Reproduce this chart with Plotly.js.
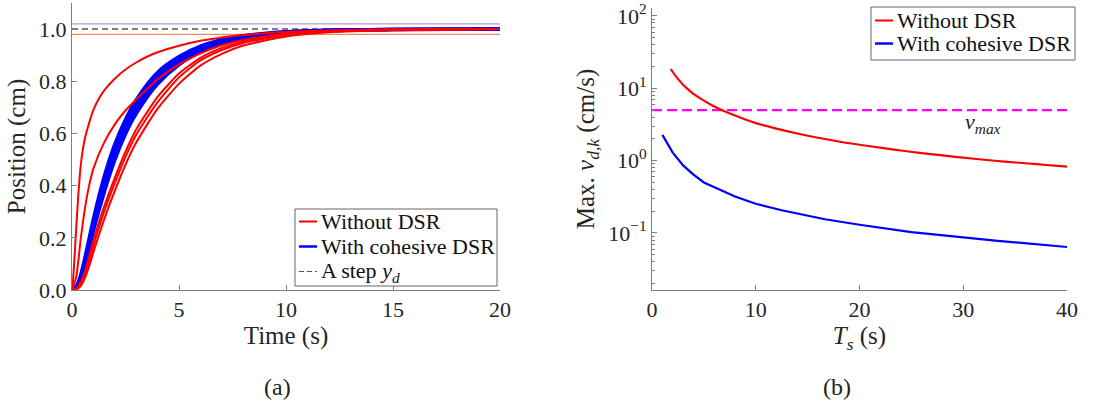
<!DOCTYPE html>
<html>
<head>
<meta charset="utf-8">
<script src="https://cdn.plot.ly/plotly-3.0.1.min.js"></script>
<style>html,body{margin:0;padding:0;background:#fff;}#chart{width:1099px;height:415px;}</style>
</head>
<body>
<div id="chart"></div>
<script>
// ---------- Panel (a): step responses ----------
const tR1 = [0, 0.05, 0.1, 0.15, 0.2, 0.3, 0.4, 0.5, 0.6, 0.8, 1.0, 1.3, 1.6, 2.0, 2.5, 3.0, 3.5, 4.0, 5.0, 6.0, 7.0, 8.0, 9.0, 10, 12, 14, 17, 20];
const yR1 = [0, 0.04, 0.10, 0.17, 0.24, 0.37, 0.47, 0.535, 0.58, 0.64, 0.69, 0.74, 0.775, 0.81, 0.845, 0.872, 0.894, 0.911, 0.936, 0.955, 0.968, 0.977, 0.984, 0.989, 0.995, 0.998, 0.999, 1.0];

const tC = [0, 0.2, 0.4, 0.6, 0.8, 1, 1.5, 2, 2.5, 3, 4, 5, 6, 7, 8, 10, 12, 15, 20];
const yR2 = [0, 0.05, 0.19, 0.31, 0.40, 0.465, 0.565, 0.635, 0.688, 0.73, 0.808, 0.865, 0.907, 0.938, 0.958, 0.982, 0.993, 0.998, 1.0];
const yR3 = [0, 0.005, 0.03, 0.07, 0.13, 0.19, 0.32, 0.43, 0.53, 0.615, 0.74, 0.83, 0.89, 0.928, 0.952, 0.98, 0.992, 0.998, 1.0];
const yR4 = [0, 0.003, 0.02, 0.055, 0.11, 0.17, 0.30, 0.41, 0.51, 0.595, 0.72, 0.815, 0.88, 0.92, 0.947, 0.977, 0.99, 0.997, 1.0];
const yR5 = [0, 0.002, 0.015, 0.045, 0.09, 0.145, 0.27, 0.38, 0.48, 0.565, 0.695, 0.79, 0.86, 0.905, 0.937, 0.972, 0.988, 0.996, 1.0];

const yB1 = [0, 0.014, 0.058, 0.125, 0.20, 0.275, 0.435, 0.56, 0.655, 0.73, 0.835, 0.895, 0.935, 0.96, 0.975, 0.99, 0.996, 0.999, 1.0];
const yB2 = [0, 0.012, 0.052, 0.115, 0.188, 0.262, 0.418, 0.544, 0.641, 0.716, 0.824, 0.887, 0.929, 0.956, 0.972, 0.989, 0.996, 0.999, 1.0];
const yB3 = [0, 0.011, 0.047, 0.106, 0.176, 0.249, 0.402, 0.528, 0.626, 0.702, 0.812, 0.879, 0.923, 0.951, 0.969, 0.987, 0.995, 0.999, 1.0];
const yB4 = [0, 0.010, 0.042, 0.098, 0.165, 0.236, 0.386, 0.512, 0.611, 0.688, 0.80, 0.871, 0.917, 0.947, 0.966, 0.986, 0.994, 0.998, 1.0];
const yB5 = [0, 0.009, 0.038, 0.090, 0.155, 0.224, 0.371, 0.497, 0.597, 0.675, 0.789, 0.863, 0.911, 0.943, 0.963, 0.984, 0.993, 0.998, 1.0];

const tSpan = [0, 20];
const stepY = [1.0, 1.0];
const upperBand = [1.02, 1.02];
const lowerBand = [0.98, 0.98];

// ---------- Panel (b): max velocity vs sampling period ----------
const TsRed = [1.82, 2, 2.5, 3, 3.5, 4, 5, 6, 7, 8, 9, 10, 12, 14, 16, 18, 20, 22, 24, 26, 28, 30, 32, 34, 36, 38, 40];
const vRed = [18.5, 16.8, 13.5, 11.2, 9.6, 8.4, 6.75, 5.6, 4.8, 4.2, 3.7, 3.3, 2.77, 2.37, 2.07, 1.84, 1.66, 1.51, 1.38, 1.27, 1.18, 1.10, 1.03, 0.97, 0.92, 0.87, 0.826];
const TsBlue = [1, 2, 3, 4, 5, 6.67, 8, 10, 12.5, 16.67, 20, 25, 33.33, 40];
const vBlue = [2.27, 1.29, 0.86, 0.64, 0.50, 0.39, 0.32, 0.254, 0.206, 0.155, 0.130, 0.103, 0.078, 0.064];
const TsSpan = [0, 40];
const vMax = [5.0, 5.0];

const yTickVals = [0.1, 1, 10, 100];
const yTickText = ['10<sup>\u22121</sup>', '10<sup>0</sup>', '10<sup>1</sup>', '10<sup>2</sup>'];
const yMinorVals = [0.02, 0.03, 0.04, 0.05, 0.06, 0.07, 0.08, 0.09, 0.2, 0.3, 0.4, 0.5, 0.6, 0.7, 0.8, 0.9,
  2, 3, 4, 5, 6, 7, 8, 9, 20, 30, 40, 50, 60, 70, 80, 90];

// legend labels
const legendA = ['Without DSR', 'With cohesive DSR', 'A step <i>y</i><sub><i>d</i></sub>'];
const legendB = ['Without DSR', 'With cohesive DSR'];

const RED = '#ff0000', BLUE = '#0000ff';
const FONT = '"Liberation Serif", "Times New Roman", serif';
const W = 1099, H = 415;
const px = v => v / W, py = v => 1 - v / H;

const traces = [];
traces.push({x: tSpan, y: upperBand, mode: 'lines', line: {color: '#b99ad6', width: 1.2}, hoverinfo: 'skip'});
traces.push({x: tSpan, y: lowerBand, mode: 'lines', line: {color: '#f4875a', width: 1.2}, hoverinfo: 'skip'});
traces.push({x: tSpan, y: stepY, mode: 'lines', name: legendA[2], line: {color: '#555555', width: 1.5, dash: '6px,4px'}});

[yB1, yB2, yB3, yB4, yB5].forEach(yy => traces.push({x: tC, y: yy, mode: 'lines', name: legendA[1],
  line: {color: BLUE, width: 3.2, shape: 'spline', smoothing: 0.8}}));
[[tR1, yR1], [tC, yR2], [tC, yR3], [tC, yR4], [tC, yR5]].forEach(s => traces.push({x: s[0], y: s[1], mode: 'lines', name: legendA[0],
  line: {color: RED, width: 2, shape: 'spline', smoothing: 0.6}}));

traces.push({x: TsSpan, y: vMax, xaxis: 'x2', yaxis: 'y2', mode: 'lines', line: {color: '#ff00ff', width: 2.2, dash: '10px,5px'}});
traces.push({x: TsRed, y: vRed, xaxis: 'x2', yaxis: 'y2', mode: 'lines', line: {color: RED, width: 2.2, shape: 'spline'}, name: legendB[0]});
traces.push({x: TsBlue, y: vBlue, xaxis: 'x2', yaxis: 'y2', mode: 'lines', line: {color: BLUE, width: 2.2}, name: legendB[1]});

const axCommon = {showline: true, linecolor: '#808080', linewidth: 1, ticks: 'inside', ticklen: 5, tickcolor: '#808080',
  showgrid: false, zeroline: false, tickfont: {family: FONT, size: 22, color: '#262626'}};

// Legend boxes (drawn as shapes + text so the compact MATLAB-style layout can be matched)
const shapes = [], annotations = [];
function addLegend(box, rows, items) {
  shapes.push({type: 'rect', xref: 'paper', yref: 'paper', x0: px(box[0]), x1: px(box[2]), y0: py(box[1]), y1: py(box[3]),
    line: {color: '#666666', width: 1}, fillcolor: '#ffffff', layer: 'above'});
  items.forEach((it, i) => {
    const yc = py(rows[i]);
    shapes.push({type: 'line', xref: 'paper', yref: 'paper', x0: px(box[0] + 4), x1: px(box[0] + 22), y0: yc, y1: yc,
      line: {color: it.color, width: it.width, dash: it.dash || 'solid'}, layer: 'above'});
    annotations.push({text: it.text, xref: 'paper', yref: 'paper', x: px(box[0] + 24), y: yc, xanchor: 'left', yanchor: 'middle',
      showarrow: false, font: {family: FONT, size: 22, color: '#111'}});
  });
}
addLegend([295, 209, 497, 286], [221.5, 246.5, 271.5], [
  {text: legendA[0], color: RED, width: 2},
  {text: legendA[1], color: BLUE, width: 2.5},
  {text: legendA[2], color: '#555555', width: 1.2, dash: '5px,3px'}]);
addLegend([871, 7, 1075, 60], [20.5, 43.5], [
  {text: legendB[0], color: RED, width: 2},
  {text: legendB[1], color: BLUE, width: 2.5}]);

annotations.push(
  {text: '<i>v</i><sub><i>max</i></sub>', xref: 'x2', yref: 'y2', x: 31.9, y: Math.log10(3.35), showarrow: false,
    font: {family: FONT, size: 22, color: '#222'}},
  {text: '(a)', xref: 'paper', yref: 'paper', x: px(262), y: py(387), yanchor: 'middle', showarrow: false, font: {family: FONT, size: 24, color: '#222'}},
  {text: '(b)', xref: 'paper', yref: 'paper', x: px(853), y: py(387), yanchor: 'middle', showarrow: false, font: {family: FONT, size: 24, color: '#222'}}
);

const layout = {
  width: W, height: H,
  margin: {l: 0, r: 0, t: 0, b: 0},
  showlegend: false,
  paper_bgcolor: '#ffffff', plot_bgcolor: '#ffffff',
  font: {family: FONT, color: '#262626'},
  xaxis: Object.assign({}, axCommon, {domain: [px(72), px(500)], range: [0, 20], tickvals: [0, 5, 10, 15, 20],
    title: {text: 'Time (s)', font: {family: FONT, size: 25, color: '#262626'}, standoff: 4}}),
  yaxis: Object.assign({}, axCommon, {domain: [py(290), py(3)], range: [0, 1.1], tickvals: [0, 0.2, 0.4, 0.6, 0.8, 1.0], tickformat: '.1f',
    title: {text: 'Position (cm)', font: {family: FONT, size: 25, color: '#262626'}, standoff: 6}}),
  xaxis2: Object.assign({}, axCommon, {domain: [px(652), px(1067)], range: [0, 40], tickvals: [0, 10, 20, 30, 40], anchor: 'y2',
    title: {text: '<i>T</i><sub><i>s</i></sub> (s)', font: {family: FONT, size: 25, color: '#262626'}, standoff: 4}}),
  yaxis2: Object.assign({}, axCommon, {domain: [py(290), py(8)], type: 'log', range: [-1.788, 2.11], anchor: 'x2',
    tickvals: yTickVals, ticktext: yTickText,
    minor: {tickmode: 'array', tickvals: yMinorVals, ticks: 'inside', ticklen: 3, tickcolor: '#808080', showgrid: false},
    title: {text: 'Max. <i>v</i><sub><i>d,k</i></sub> (cm/s)', font: {family: FONT, size: 25, color: '#262626'}, standoff: 6}}),
  shapes: shapes,
  annotations: annotations
};

Plotly.newPlot('chart', traces, layout, {displayModeBar: false, staticPlot: true});
</script>
</body>
</html>
